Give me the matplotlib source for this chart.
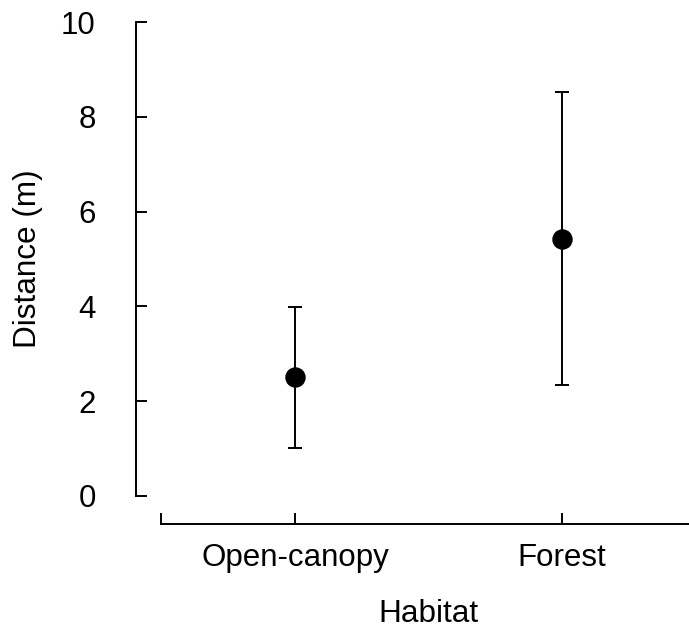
import matplotlib.pyplot as plt

# group means with lower / upper interval limits (m)
habitats = ["Open-canopy", "Forest"]
means = [2.5, 5.43]
lower = [1.02, 2.34]
upper = [3.98, 8.53]
yticks = [0, 2, 4, 6, 8, 10]

plt.rcParams['font.family'] = ['Liberation Sans', 'DejaVu Sans']

W, H = 689, 634
fig = plt.figure(figsize=(W / 100, H / 100), dpi=100)
ax = fig.add_axes([136 / W, 1 - 524 / H, 1 - 136 / W, (524 - 22) / H])

x = [1, 2]
err = [[m - lo for m, lo in zip(means, lower)],
       [hi - m for m, hi in zip(means, upper)]]
ax.errorbar(x, means, yerr=err, fmt='o', color='black', ms=13.7,
            elinewidth=1.4, capsize=4.7, capthick=1.4)

ax.set_xticks(x)
ax.set_xticklabels(habitats)
ax.set_xticks([0.5, 2.5], minor=True)
ax.set_yticks(yticks)
# limits set after the ticks, otherwise set_xticks widens them
ax.set_xlim(0.4045, 2.4757)
ax.set_ylim(-0.591, 10)

for s in ['top', 'right']:
    ax.spines[s].set_visible(False)
ax.spines['left'].set_bounds(0, 10)
ax.spines['bottom'].set_bounds(0.5, 2.5)
for s in ['left', 'bottom']:
    ax.spines[s].set_linewidth(1.4)
    ax.spines[s].set_clip_on(False)

ax.tick_params(axis='both', which='both', direction='in', length=8, width=1.4,
               labelsize=22.5)
ax.tick_params(axis='y', pad=29)
ax.tick_params(axis='x', pad=14)

fig.text(428 / W, 1 - 614 / H, "Habitat", ha='center', va='center', fontsize=22.7)
fig.text(28 / W, 1 - 259 / H, "Distance (m)", ha='center', va='center',
         rotation=90, fontsize=22.7)

fig.savefig("out.png", dpi=100)
